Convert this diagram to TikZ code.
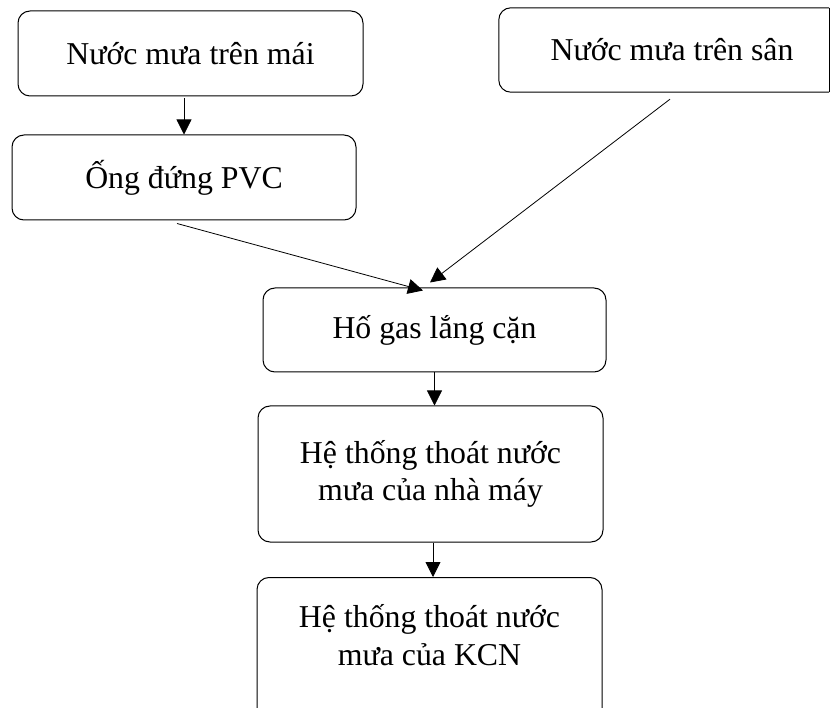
\documentclass[tikz,border=0pt]{standalone}
\usepackage{fontspec}
\setmainfont{Liberation Serif}
\usetikzlibrary{arrows.meta,calc}
\begin{document}
\begin{tikzpicture}[x=1pt,y=-1pt,
  box/.style={draw, line width=1pt, rounded corners=12pt, align=center,
    font=\fontsize{31.8}{37.5}\selectfont, inner sep=0pt},
  lbl/.style={align=center, font=\fontsize{31.8}{37.5}\selectfont, inner sep=0pt},
  arr/.style={-{Triangle[length=15pt,width=15pt]}, line width=0.8pt}]
  \path[use as bounding box, clip] (0,0) rectangle (830,708);

  % sources
  \node[box, minimum width=345, minimum height=85] (mai) at (190.5,53.5) {Nước mưa trên mái};
  \node[box, minimum width=344, minimum height=85] (pvc) at (184,177.5) {Ống đứng PVC};
  \node[inner sep=0pt, minimum width=330, minimum height=84] (san) at (664,50) {};
  \draw[line width=1pt, rounded corners=12pt]
    (san.north east) -- (san.north west) -- (san.south west) -- (san.south east);
  \draw[line width=1pt] (san.north east) -- (san.south east);
  \node[lbl] (santext) at (672,50) {Nước mưa trên sân};

  % collection and discharge
  \node[box, minimum width=343, minimum height=84] (gas) at (434.5,330) {Hố gas lắng cặn};
  \node[box, minimum width=345, minimum height=136] (nm) at (430.5,474) {Hệ thống thoát nước\\mưa của nhà máy};
  \node[box, minimum width=345, minimum height=150, anchor=north] (kcn) at (429.5,577) {};
  \node[lbl] (kcntext) at (429.5,635) {Hệ thống thoát nước\\mưa của KCN};

  % connectors
  \draw[arr] ($(pvc.north |- mai.south)+(0,2)$) -- (pvc.north);
  \draw[arr] ($(pvc.south)+(-7,3)$) -- ($(gas.north)+(-11.5,3)$);
  \draw[arr] ($(san.south)+(6,7)$) -- ($(gas.north)+(-4.5,-5)$);
  \draw[arr] (gas.south) -- (gas.south |- nm.north);
  \draw[arr] ($(nm.south)+(2.5,0)$) -- ($(kcn.north)+(3.5,0)$);
\end{tikzpicture}
\end{document}
